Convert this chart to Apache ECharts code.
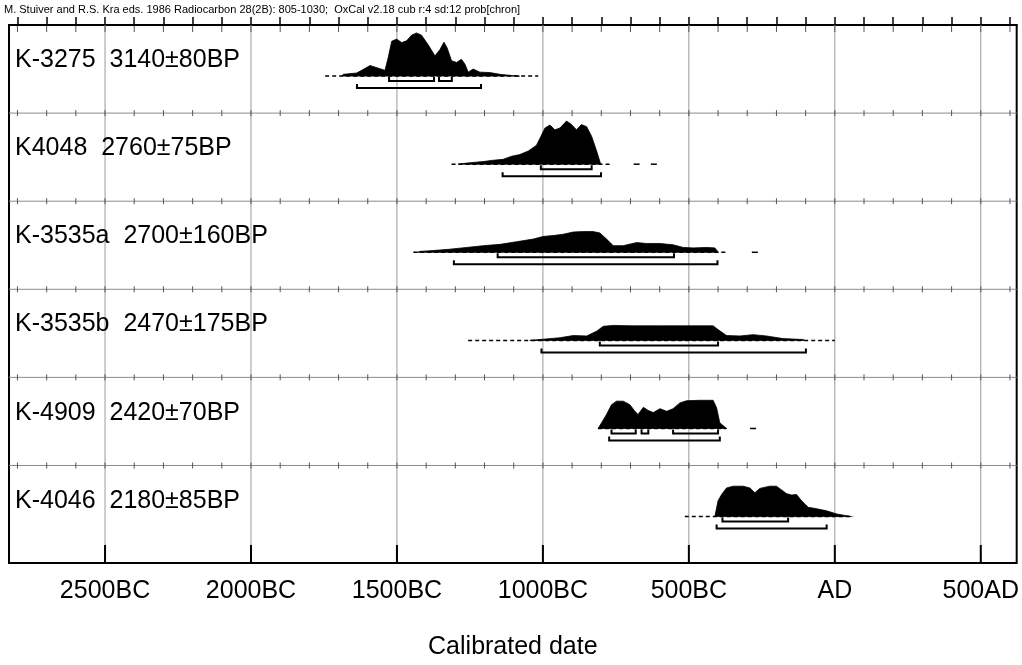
<!DOCTYPE html>
<html><head><meta charset="utf-8">
<script src="https://cdn.jsdelivr.net/npm/echarts@6/dist/echarts.min.js"></script>
<style>html,body{margin:0;padding:0;background:#fff}#c{width:1022px;height:665px}</style>
</head><body><div id="c"></div>
<script>
// ---------- data ----------
const headerText = "M. Stuiver and R.S. Kra eds. 1986 Radiocarbon 28(2B): 805-1030;  OxCal v2.18 cub r:4 sd:12 prob[chron]";
const axisTitle = "Calibrated date";
const sampleLabels = ["K-3275  3140±80BP", "K4048  2760±75BP", "K-3535a  2700±160BP", "K-3535b  2470±175BP", "K-4909  2420±70BP", "K-4046  2180±85BP"];
const majorTickYears = [-2500, -2000, -1500, -1000, -500, 0, 500];
const majorTickLabels = ["2500BC", "2000BC", "1500BC", "1000BC", "500BC", "AD", "500AD"];
const minorTickYears = [-2800,-2700,-2600,-2500,-2400,-2300,-2200,-2100,-2000,-1900,-1800,-1700,-1600,-1500,-1400,-1300,-1200,-1100,-1000,-900,-800,-700,-600,-500,-400,-300,-200,-100,0,100,200,300,400,500,600];

// probability distributions: [calendar year (negative = BC), relative probability]
const dist_K3275 = [[-1689,0],[-1684,4],[-1638,7],[-1621,13],[-1592,24],[-1564,18],[-1541,13],[-1530,42],[-1518,79],[-1501,84],[-1484,76],[-1467,80],[-1450,93],[-1433,98],[-1416,93],[-1393,71],[-1370,46],[-1353,60],[-1339,77],[-1328,64],[-1313,35],[-1296,31],[-1279,38],[-1267,27],[-1256,9],[-1239,16],[-1216,9],[-1182,8],[-1147,4],[-1102,1],[-1080,0]];
const dist_K4048 = [[-1290,0],[-1267,2],[-1239,4],[-1204,6],[-1170,9],[-1136,11],[-1107,18],[-1079,22],[-1050,30],[-1022,43],[-1010,59],[-993,82],[-976,89],[-959,78],[-942,82],[-919,98],[-902,90],[-885,78],[-868,90],[-850,85],[-833,63],[-816,30],[-802,0]];
const dist_K3535a = [[-1430,0],[-1421,2],[-1376,4],[-1319,7],[-1261,11],[-1204,15],[-1147,18],[-1090,24],[-1033,30],[-999,36],[-965,38],[-930,41],[-896,46],[-862,47],[-828,47],[-805,44],[-782,30],[-759,15],[-725,15],[-679,22],[-645,20],[-599,20],[-554,17],[-519,11],[-485,10],[-439,11],[-411,10],[-399,0]];
const dist_K3535b = [[-1045,0],[-1010,2],[-942,6],[-896,11],[-850,10],[-816,21],[-793,32],[-759,34],[-691,33],[-611,33],[-519,33],[-417,33],[-399,24],[-371,11],[-325,10],[-280,13],[-234,10],[-177,4],[-108,2],[-103,0]];
const dist_K4909 = [[-811,0],[-799,13],[-782,32],[-765,54],[-748,62],[-725,62],[-702,54],[-685,39],[-674,32],[-656,48],[-639,41],[-622,36],[-599,45],[-576,39],[-554,45],[-531,58],[-508,63],[-462,64],[-417,64],[-405,47],[-394,13],[-371,0]];
const dist_K4046 = [[-411,0],[-400,36],[-388,50],[-371,65],[-348,69],[-314,69],[-291,65],[-274,54],[-257,64],[-223,69],[-200,69],[-165,52],[-148,49],[-131,50],[-114,36],[-91,21],[-63,18],[-28,13],[6,6],[40,2],[57,0]];

// low-probability tails (start, end)
const tails = [[-1746,-1016],[-1313,-770],[-1444,-371],[-1256,0],[-811,-371],[-514,63]];
// isolated low-probability specks: [row, year]
const specks = [[1,-679],[1,-620],[2,-274],[4,-280]];

// 68.2% (1 sigma) ranges
const sigma1 = [
  [[-1527,-1373],[-1356,-1312]],
  [[-1007,-833]],
  [[-1155,-551]],
  [[-805,-400]],
  [[-765,-682],[-662,-639],[-554,-400]],
  [[-385,-160]]
];
// 95.4% (2 sigma) ranges
const sigma2 = [
  [[-1637,-1212]],
  [[-1138,-801]],
  [[-1305,-402]],
  [[-1005,-99]],
  [[-773,-394]],
  [[-405,-28]]
];
const dists = [dist_K3275, dist_K4048, dist_K3535a, dist_K3535b, dist_K4909, dist_K4046];

// ---------- chart ----------
const FONT = "'Liberation Sans', Arial, Helvetica, sans-serif";
const X_MIN = -2829, X_MAX = 623;
const ROW = 100, BASE = 58, VS = 0.5, Y_MAX = 610.7;
const rowBoundaries = [100, 200, 300, 400, 500];

const chart = echarts.init(document.getElementById('c'), null, {renderer: 'canvas'});

const option = {
  animation: false,
  backgroundColor: '#fff',
  title: {
    text: headerText, left: 4, top: 4, padding: 0,
    textStyle: {fontSize: 11, fontWeight: 'normal', color: '#000', fontFamily: FONT}
  },
  grid: {left: 9, right: 5, top: 25, bottom: 94, show: true, borderColor: '#000', borderWidth: 2, backgroundColor: 'transparent'},
  xAxis: {
    type: 'value', min: X_MIN, max: X_MAX,
    name: axisTitle, nameLocation: 'middle', nameGap: 72,
    nameTextStyle: {fontSize: 25, color: '#000', fontFamily: FONT},
    axisLine: {show: true, lineStyle: {color: '#000', width: 2}},
    axisTick: {show: true, inside: true, length: 8, customValues: minorTickYears, lineStyle: {color: '#000', width: 1.5}},
    axisLabel: {
      show: true, margin: 16, customValues: majorTickYears, fontSize: 25, color: '#000', fontFamily: FONT,
      formatter: v => majorTickLabels[majorTickYears.indexOf(Math.round(v))] || ''
    },
    splitLine: {show: false}
  },
  yAxis: {type: 'value', min: 0, max: Y_MAX, inverse: true, show: false},
  series: [
    // vertical major gridlines + bottom major ticks
    {
      type: 'custom', z: 1, silent: true,
      data: majorTickYears.map(y => [y, 0]),
      renderItem: (params, api) => {
        const top = api.coord([api.value(0), 0]);
        const bot = api.coord([api.value(0), Y_MAX]);
        return {type: 'group', children: [
          {type: 'line', shape: {x1: top[0], y1: top[1], x2: bot[0], y2: bot[1]}, style: {stroke: '#9a9a9a', lineWidth: 1}},
          {type: 'line', shape: {x1: bot[0], y1: bot[1], x2: bot[0], y2: bot[1] - 18}, style: {stroke: '#000', lineWidth: 2}}
        ]};
      }
    },
    // horizontal row separators
    {
      type: 'custom', z: 1, silent: true,
      data: rowBoundaries.map(b => [X_MIN, b]),
      renderItem: (params, api) => {
        const a = api.coord([X_MIN, api.value(1)]);
        const b = api.coord([X_MAX, api.value(1)]);
        return {type: 'line', shape: {x1: a[0], y1: a[1], x2: b[0], y2: b[1]}, style: {stroke: '#8a8a8a', lineWidth: 1}};
      }
    },
    // century ticks at each row top
    {
      type: 'custom', z: 2, silent: true,
      data: minorTickYears.map(y => [y, 0]),
      renderItem: (params, api) => {
        const x = api.value(0);
        const children = [];
        const t = api.coord([x, 0]);
        children.push({type: 'line', shape: {x1: t[0], y1: t[1] + 1, x2: t[0], y2: t[1] + 7}, style: {stroke: '#555', lineWidth: 1}});
        rowBoundaries.forEach(b => {
          const p = api.coord([x, b]);
          children.push({type: 'line', shape: {x1: p[0], y1: p[1] - 3, x2: p[0], y2: p[1] + 3}, style: {stroke: '#555', lineWidth: 1}});
        });
        return {type: 'group', children};
      }
    },
    // distributions, tails, ranges, labels
    {
      type: 'custom', z: 5, silent: true,
      data: dists.map((d, i) => [tails[i][0], i * ROW + BASE]),
      renderItem: (params, api) => {
        const i = params.dataIndex;
        const base = i * ROW + BASE;
        const d = dists[i];
        const children = [];
        const t0 = api.coord([tails[i][0], base]), t1 = api.coord([tails[i][1], base]);
        children.push({type: 'line', shape: {x1: t0[0], y1: t0[1], x2: t1[0], y2: t1[1]}, style: {stroke: '#000', lineWidth: 1.5, lineDash: [4, 3]}});
        const pts = d.map(p => api.coord([p[0], base - p[1] * VS]));
        pts.unshift(api.coord([d[0][0], base]));
        pts.push(api.coord([d[d.length - 1][0], base]));
        children.push({type: 'polygon', shape: {points: pts}, style: {fill: '#000', stroke: '#000', lineWidth: 0.8}});
        [[sigma1[i], 5], [sigma2[i], 12]].forEach(([ranges, off]) => {
          ranges.forEach(([a, b]) => {
            const p0 = api.coord([a, base]), p1 = api.coord([b, base]);
            const y = p0[1] + off;
            children.push({type: 'polyline', shape: {points: [[p0[0], y - 4], [p0[0], y], [p1[0], y], [p1[0], y - 4]]},
              style: {stroke: '#000', lineWidth: 2, fill: null}});
          });
        });
        specks.filter(s => s[0] === i).forEach(s => {
          const p = api.coord([s[1], base]);
          children.push({type: 'line', shape: {x1: p[0] - 3, y1: p[1], x2: p[0] + 3, y2: p[1]}, style: {stroke: '#000', lineWidth: 1.5}});
        });
        const lp = api.coord([X_MIN, i * ROW + 40]);
        children.push({type: 'text', x: lp[0] + 6, y: lp[1],
          style: {text: sampleLabels[i], fontSize: 25, fontFamily: FONT, fill: '#000', align: 'left', verticalAlign: 'middle'}});
        return {type: 'group', children};
      }
    }
  ]
};
chart.setOption(option);
</script>
</body></html>
